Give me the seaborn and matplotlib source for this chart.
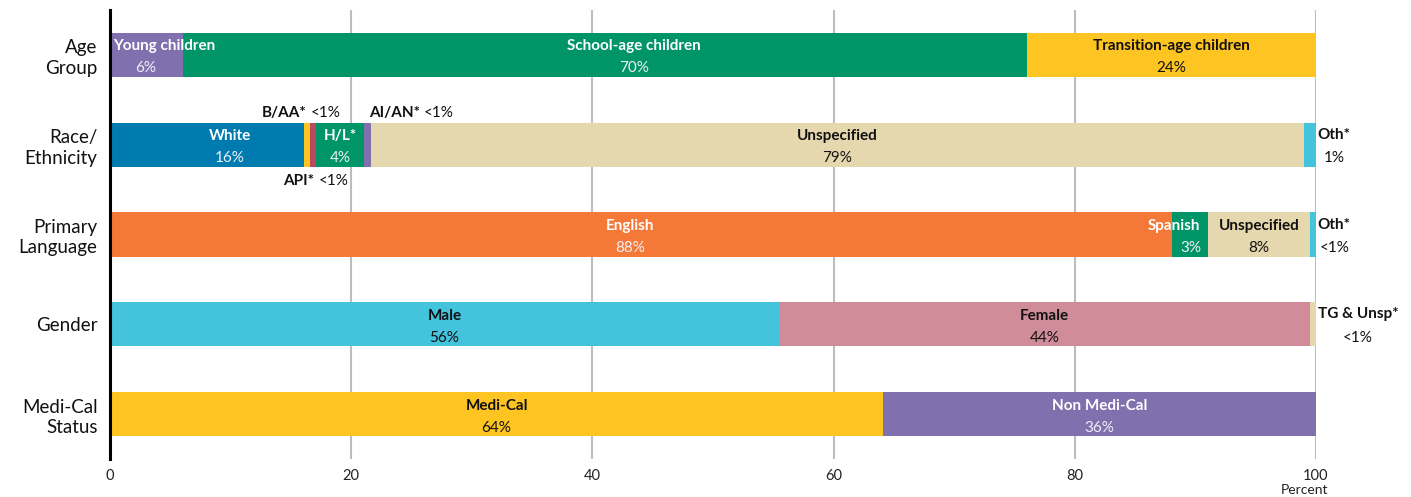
import matplotlib
matplotlib.use("Agg")
import matplotlib.pyplot as plt
import seaborn as sns
import pandas as pd
import numpy as np

# ---------------- data ----------------
categories = ["Age\nGroup", "Race/\nEthnicity", "Primary\nLanguage", "Gender", "Medi-Cal\nStatus"]

age_labels = ["Young children", "School-age children", "Transition-age children"]
age_values = [6.05, 69.95, 24.0]
age_pct = ["6%", "70%", "24%"]

race_labels = ["White", "API*", "B/AA*", "H/L*", "AI/AN*", "Unspecified", "Oth*"]
race_values = [16.1, 0.5, 0.5, 4.0, 0.55, 77.35, 1.0]
race_pct = ["16%", "<1%", "<1%", "4%", "<1%", "79%", "1%"]

lang_labels = ["English", "Spanish", "Unspecified", "Oth*"]
lang_values = [88.05, 3.0, 8.45, 0.5]
lang_pct = ["88%", "3%", "8%", "<1%"]

gender_labels = ["Male", "Female", "TG & Unsp*"]
gender_values = [55.45, 44.05, 0.5]
gender_pct = ["56%", "44%", "<1%"]

medi_labels = ["Medi-Cal", "Non Medi-Cal"]
medi_values = [64.1, 35.9]
medi_pct = ["64%", "36%"]

x_ticks = [0, 20, 40, 60, 80, 100]
x_label = "Percent"

# ---------------- styling ----------------
PURPLE = "#8070AE"
GREEN = "#009566"
YELLOW = "#FEC421"
BLUE = "#007BB0"
RED = "#BA4A5B"
TAN = "#E6D8AE"
CYAN = "#43C3DC"
ORANGE = "#F47938"
PINK = "#D08C99"

rows = [
    (age_labels, age_values, age_pct, [PURPLE, GREEN, YELLOW]),
    (race_labels, race_values, race_pct, [BLUE, YELLOW, RED, GREEN, PURPLE, TAN, CYAN]),
    (lang_labels, lang_values, lang_pct, [ORANGE, GREEN, TAN, CYAN]),
    (gender_labels, gender_values, gender_pct, [CYAN, PINK, TAN]),
    (medi_labels, medi_values, medi_pct, [YELLOW, PURPLE]),
]
dark = {PURPLE, GREEN, BLUE, ORANGE}

sns.set_style("white")
plt.rcParams["font.family"] = ["Lato", "DejaVu Sans"]

fig = plt.figure(figsize=(14.11, 4.97), dpi=100)
ax = fig.add_axes([110 / 1411, 38 / 497, 1206 / 1411, 449 / 497])

BAR_H = 0.49
for i, (labels, values, pcts, colors) in enumerate(rows):
    ends = np.cumsum(values)
    for j in range(len(values) - 1, -1, -1):
        df = pd.DataFrame({"cat": [categories[i]], "end": [ends[j]]})
        sns.barplot(data=df, x="end", y="cat", order=categories, color=colors[j],
                    saturation=1, width=BAR_H, orient="h", errorbar=None,
                    linewidth=0, ax=ax)

ax.set_xlim(0, 100)
ax.set_ylim(4.5, -0.5)
ax.set_xticks(x_ticks)
ax.set_xticklabels([str(t) for t in x_ticks], fontsize=10.5, color="#222222")
ax.set_yticks(range(len(categories)))
ax.set_yticklabels(categories, fontsize=13.5, color="#111111", ha="right",
                   multialignment="right", linespacing=1.25)
ax.tick_params(axis="both", length=0)
ax.tick_params(axis="y", pad=9)
ax.tick_params(axis="x", pad=7)
ax.set_xlabel("")
ax.set_ylabel("")
ax.grid(axis="x", color="#BDBDBD", linewidth=1.5)
ax.grid(axis="y", visible=False)
ax.set_axisbelow(True)
for s in ["top", "right", "bottom"]:
    ax.spines[s].set_visible(False)
ax.spines["left"].set_color("black")
ax.spines["left"].set_linewidth(2.2)

ax.annotate(x_label, xy=(100, 0), xycoords=("data", "axes fraction"),
            xytext=(8.5, -22), textcoords="offset points", ha="right", va="center",
            fontsize=10, color="#222222")

NAME_DY = -0.095
PCT_DY = 0.15
FS = 11

# label nudges (x offset of the label centre, in percent units)
nudge = {"School-age children": 2.4, "White": 1.9, "English": -0.9, "Spanish": -1.3}

outside_right = {"Oth*", "TG & Unsp*"}
tiny_above = {"B/AA*", "AI/AN*"}
tiny_below = {"API*"}

for i, (labels, values, pcts, colors) in enumerate(rows):
    ends = np.cumsum(values)
    starts = ends - np.array(values)
    for j, (lab, val, pct) in enumerate(zip(labels, values, pcts)):
        col = colors[j]
        tc = "white" if col in dark else "#111111"
        pc = "#F0F0F5" if col in dark else "#111111"
        mid = (starts[j] + ends[j]) / 2
        if lab in outside_right:
            t = ax.text(100.15, i - 0.11, lab, ha="left", va="center",
                        fontsize=FS, fontweight="bold", color="#111111")
            ax.annotate(pct, xy=(0.5, 0), xycoords=t,
                        xytext=(0, -12), textcoords="offset points", ha="center",
                        va="center", fontsize=FS, color="#111111")
        elif lab in tiny_above or lab in tiny_below:
            y = i - 0.355 if lab in tiny_above else i + 0.4
            if lab == "AI/AN*":
                t = ax.text(21.45, y, lab, ha="left", va="center", fontsize=FS,
                            fontweight="bold", color="#111111")
                ax.annotate(pct, xy=(1, 0.5), xycoords=t, xytext=(3, 0),
                            textcoords="offset points", ha="left", va="center",
                            fontsize=FS, color="#111111")
            else:
                xr = 19.15 if lab == "B/AA*" else 19.75
                t = ax.text(xr, y, pct, ha="right", va="center", fontsize=FS,
                            color="#111111")
                ax.annotate(lab, xy=(0, 0.5), xycoords=t, xytext=(-3, 0),
                            textcoords="offset points", ha="right", va="center",
                            fontsize=FS, fontweight="bold", color="#111111")
        elif lab == "Young children":
            ax.text(starts[j] + 0.25, i + NAME_DY, lab, ha="left", va="center",
                    fontsize=FS, fontweight="bold", color=tc)
            ax.text(mid - 0.1, i + PCT_DY, pct, ha="center", va="center",
                    fontsize=FS, color=pc)
        else:
            xn = mid + nudge.get(lab, 0)
            xp = mid + (nudge.get(lab, 0) if lab != "Spanish" else 0.1)
            ax.text(xn, i + NAME_DY, lab, ha="center", va="center",
                    fontsize=FS, fontweight="bold", color=tc)
            ax.text(xp, i + PCT_DY, pct, ha="center", va="center",
                    fontsize=FS, color=pc)

fig.savefig("out.png", dpi=100)
